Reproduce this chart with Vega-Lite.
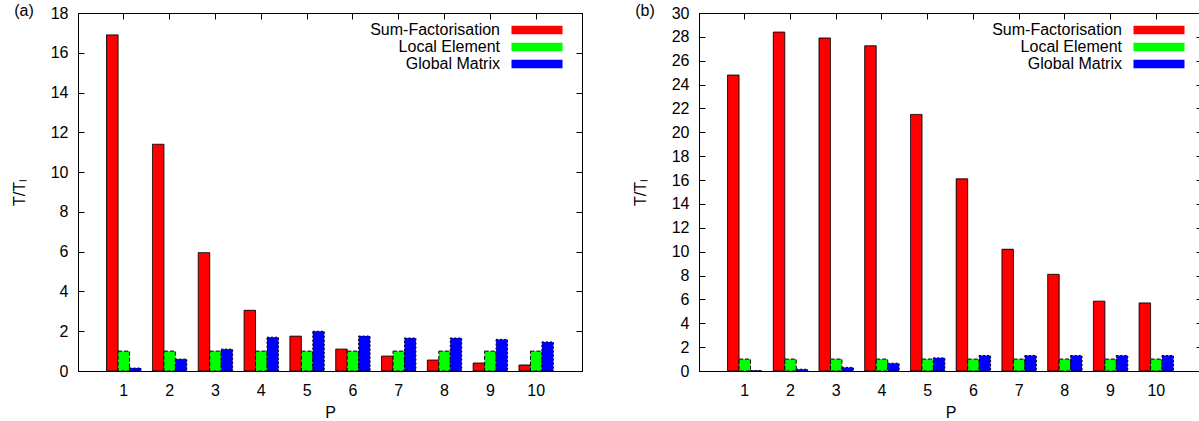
{
  "$schema": "https://vega.github.io/schema/vega-lite/v6.json",
  "padding": {"left": 10, "top": 2, "right": 0, "bottom": 0},
  "config": {
    "font": "Liberation Sans",
    "view": {"stroke": "black", "strokeWidth": 1},
    "axis": {"domainColor": "black", "tickColor": "black", "labelColor": "black", "titleColor": "black", "labelFontSize": 16, "titleFontSize": 16, "titleFontWeight": "normal", "grid": false, "tickSize": -6, "labelPadding": 16, "titlePadding": 23},
    "legend": {"labelFontSize": 16, "labelColor": "black"}
  },
  "datasets": {
    "d": [
      {"panel": "a", "P": 1, "series": "Sum-Factorisation", "value": 16.9},
      {"panel": "a", "P": 2, "series": "Sum-Factorisation", "value": 11.4},
      {"panel": "a", "P": 3, "series": "Sum-Factorisation", "value": 5.95},
      {"panel": "a", "P": 4, "series": "Sum-Factorisation", "value": 3.05},
      {"panel": "a", "P": 5, "series": "Sum-Factorisation", "value": 1.75},
      {"panel": "a", "P": 6, "series": "Sum-Factorisation", "value": 1.1},
      {"panel": "a", "P": 7, "series": "Sum-Factorisation", "value": 0.75},
      {"panel": "a", "P": 8, "series": "Sum-Factorisation", "value": 0.55},
      {"panel": "a", "P": 9, "series": "Sum-Factorisation", "value": 0.4},
      {"panel": "a", "P": 10, "series": "Sum-Factorisation", "value": 0.3},
      {"panel": "a", "P": 1, "series": "Local Element", "value": 1},
      {"panel": "a", "P": 2, "series": "Local Element", "value": 1},
      {"panel": "a", "P": 3, "series": "Local Element", "value": 1},
      {"panel": "a", "P": 4, "series": "Local Element", "value": 1},
      {"panel": "a", "P": 5, "series": "Local Element", "value": 1},
      {"panel": "a", "P": 6, "series": "Local Element", "value": 1},
      {"panel": "a", "P": 7, "series": "Local Element", "value": 1},
      {"panel": "a", "P": 8, "series": "Local Element", "value": 1},
      {"panel": "a", "P": 9, "series": "Local Element", "value": 1},
      {"panel": "a", "P": 10, "series": "Local Element", "value": 1},
      {"panel": "a", "P": 1, "series": "Global Matrix", "value": 0.15},
      {"panel": "a", "P": 2, "series": "Global Matrix", "value": 0.6},
      {"panel": "a", "P": 3, "series": "Global Matrix", "value": 1.1},
      {"panel": "a", "P": 4, "series": "Global Matrix", "value": 1.7},
      {"panel": "a", "P": 5, "series": "Global Matrix", "value": 2.0},
      {"panel": "a", "P": 6, "series": "Global Matrix", "value": 1.76},
      {"panel": "a", "P": 7, "series": "Global Matrix", "value": 1.66},
      {"panel": "a", "P": 8, "series": "Global Matrix", "value": 1.66},
      {"panel": "a", "P": 9, "series": "Global Matrix", "value": 1.59},
      {"panel": "a", "P": 10, "series": "Global Matrix", "value": 1.46},
      {"panel": "b", "P": 1, "series": "Sum-Factorisation", "value": 24.8},
      {"panel": "b", "P": 2, "series": "Sum-Factorisation", "value": 28.4},
      {"panel": "b", "P": 3, "series": "Sum-Factorisation", "value": 27.9},
      {"panel": "b", "P": 4, "series": "Sum-Factorisation", "value": 27.25},
      {"panel": "b", "P": 5, "series": "Sum-Factorisation", "value": 21.5},
      {"panel": "b", "P": 6, "series": "Sum-Factorisation", "value": 16.1},
      {"panel": "b", "P": 7, "series": "Sum-Factorisation", "value": 10.2},
      {"panel": "b", "P": 8, "series": "Sum-Factorisation", "value": 8.1},
      {"panel": "b", "P": 9, "series": "Sum-Factorisation", "value": 5.85},
      {"panel": "b", "P": 10, "series": "Sum-Factorisation", "value": 5.7},
      {"panel": "b", "P": 1, "series": "Local Element", "value": 1},
      {"panel": "b", "P": 2, "series": "Local Element", "value": 1},
      {"panel": "b", "P": 3, "series": "Local Element", "value": 1},
      {"panel": "b", "P": 4, "series": "Local Element", "value": 1},
      {"panel": "b", "P": 5, "series": "Local Element", "value": 1},
      {"panel": "b", "P": 6, "series": "Local Element", "value": 1},
      {"panel": "b", "P": 7, "series": "Local Element", "value": 1},
      {"panel": "b", "P": 8, "series": "Local Element", "value": 1},
      {"panel": "b", "P": 9, "series": "Local Element", "value": 1},
      {"panel": "b", "P": 10, "series": "Local Element", "value": 1},
      {"panel": "b", "P": 1, "series": "Global Matrix", "value": 0.04},
      {"panel": "b", "P": 2, "series": "Global Matrix", "value": 0.15},
      {"panel": "b", "P": 3, "series": "Global Matrix", "value": 0.3},
      {"panel": "b", "P": 4, "series": "Global Matrix", "value": 0.65},
      {"panel": "b", "P": 5, "series": "Global Matrix", "value": 1.1},
      {"panel": "b", "P": 6, "series": "Global Matrix", "value": 1.3},
      {"panel": "b", "P": 7, "series": "Global Matrix", "value": 1.3},
      {"panel": "b", "P": 8, "series": "Global Matrix", "value": 1.3},
      {"panel": "b", "P": 9, "series": "Global Matrix", "value": 1.3},
      {"panel": "b", "P": 10, "series": "Global Matrix", "value": 1.3}
    ]
  },
  "data": {"name": "d"},
  "spacing": 48,
  "resolve": {"scale": {"fill": "independent", "strokeDash": "independent", "y": "independent"}, "legend": {"fill": "independent", "strokeDash": "independent"}},
  "hconcat": [
    {
      "width": 504, "height": 358,
      "transform": [{"filter": "datum.panel === 'a'"}],
      "title": {"text": "(a)", "anchor": "start", "frame": "bounds", "fontSize": 16, "fontWeight": "normal", "dy": 18, "dx": 3},
      "layer": [
        {
          "mark": {"type": "bar", "stroke": "black", "strokeWidth": 1},
          "encoding": {
            "x": {"field": "P", "type": "ordinal", "scale": {"paddingInner": 0, "paddingOuter": 0.5}, "axis": {"orient": "bottom", "title": "P", "labelAngle": 0, "labelPadding": 17, "titlePadding": 6}},
            "xOffset": {"field": "series", "sort": ["Sum-Factorisation", "Local Element", "Global Matrix"], "scale": {"paddingInner": 0, "paddingOuter": 0.5}},
            "y": {"field": "value", "type": "quantitative", "scale": {"domain": [0, 18], "nice": false}, "axis": {"orient": "left", "title": "T/Tₗ", "values": [0,2,4,6,8,10,12,14,16,18]}},
            "fill": {"field": "series", "type": "nominal", "scale": {"domain": ["Sum-Factorisation", "Local Element", "Global Matrix"], "range": ["#ff0000", "#00ff00", "#0000ff"]}, "legend": {"title": null, "orient": "none", "legendX": 450, "legendY": 8, "padding": 0, "symbolType": "M-3,-0.5L3,-0.5L3,0.5L-3,0.5Z", "symbolSize": 289, "symbolStrokeColor": "black", "symbolStrokeWidth": 1, "labelAlign": "right", "labelOffset": -46, "rowPadding": 0}},
            "strokeDash": {"field": "series", "type": "nominal", "scale": {"domain": ["Sum-Factorisation", "Local Element", "Global Matrix"], "range": [[1, 0], [4, 2], [2, 2]]}, "legend": {"title": null, "orient": "none", "legendX": 450, "legendY": 8, "padding": 0, "symbolType": "M-3,-0.5L3,-0.5L3,0.5L-3,0.5Z", "symbolSize": 289, "symbolStrokeColor": "black", "symbolStrokeWidth": 1, "labelAlign": "right", "labelOffset": -46, "rowPadding": 0}}
          }
        },
        {
          "mark": {"type": "bar", "opacity": 0},
          "encoding": {
            "x": {"field": "P", "type": "ordinal", "axis": {"orient": "top", "title": null, "labels": false}},
            "xOffset": {"field": "series", "sort": ["Sum-Factorisation", "Local Element", "Global Matrix"]},
            "y": {"field": "value", "type": "quantitative", "axis": {"orient": "right", "title": null, "labels": false, "values": [0,2,4,6,8,10,12,14,16,18]}}
          }
        }
      ],
      "resolve": {"axis": {"x": "independent", "y": "independent"}}
    },
    {
      "width": 503, "height": 358,
      "transform": [{"filter": "datum.panel === 'b'"}],
      "title": {"text": "(b)", "anchor": "start", "frame": "bounds", "fontSize": 16, "fontWeight": "normal", "dy": 18, "dx": 3},
      "layer": [
        {
          "mark": {"type": "bar", "stroke": "black", "strokeWidth": 1},
          "encoding": {
            "x": {"field": "P", "type": "ordinal", "scale": {"paddingInner": 0, "paddingOuter": 0.5}, "axis": {"orient": "bottom", "title": "P", "labelAngle": 0, "labelPadding": 17, "titlePadding": 6}},
            "xOffset": {"field": "series", "sort": ["Sum-Factorisation", "Local Element", "Global Matrix"], "scale": {"paddingInner": 0, "paddingOuter": 0.5}},
            "y": {"field": "value", "type": "quantitative", "scale": {"domain": [0, 30], "nice": false}, "axis": {"orient": "left", "title": "T/Tₗ", "values": [0,2,4,6,8,10,12,14,16,18,20,22,24,26,28,30]}},
            "fill": {"field": "series", "type": "nominal", "scale": {"domain": ["Sum-Factorisation", "Local Element", "Global Matrix"], "range": ["#ff0000", "#00ff00", "#0000ff"]}, "legend": {"title": null, "orient": "none", "legendX": 451, "legendY": 8, "padding": 0, "symbolType": "M-3,-0.5L3,-0.5L3,0.5L-3,0.5Z", "symbolSize": 289, "symbolStrokeColor": "black", "symbolStrokeWidth": 1, "labelAlign": "right", "labelOffset": -46, "rowPadding": 0}},
            "strokeDash": {"field": "series", "type": "nominal", "scale": {"domain": ["Sum-Factorisation", "Local Element", "Global Matrix"], "range": [[1, 0], [4, 2], [2, 2]]}, "legend": {"title": null, "orient": "none", "legendX": 451, "legendY": 8, "padding": 0, "symbolType": "M-3,-0.5L3,-0.5L3,0.5L-3,0.5Z", "symbolSize": 289, "symbolStrokeColor": "black", "symbolStrokeWidth": 1, "labelAlign": "right", "labelOffset": -46, "rowPadding": 0}}
          }
        },
        {
          "mark": {"type": "bar", "opacity": 0},
          "encoding": {
            "x": {"field": "P", "type": "ordinal", "axis": {"orient": "top", "title": null, "labels": false}},
            "xOffset": {"field": "series", "sort": ["Sum-Factorisation", "Local Element", "Global Matrix"]},
            "y": {"field": "value", "type": "quantitative", "axis": {"orient": "right", "title": null, "labels": false, "values": [0,2,4,6,8,10,12,14,16,18,20,22,24,26,28,30]}}
          }
        }
      ],
      "resolve": {"axis": {"x": "independent", "y": "independent"}}
    }
  ]
}
